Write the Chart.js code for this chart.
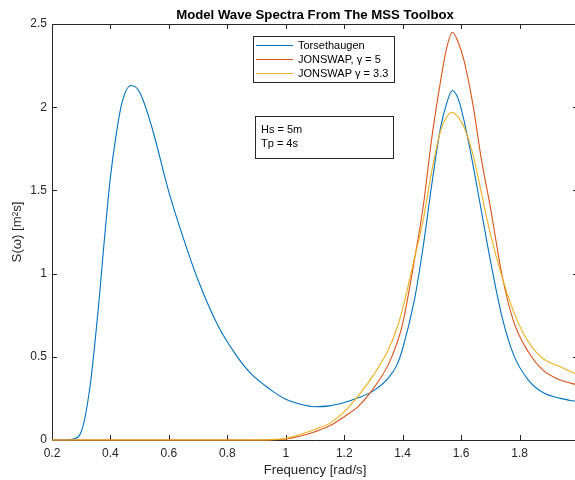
<!DOCTYPE html>
<html>
<head>
<meta charset="utf-8">
<title>Model Wave Spectra</title>
<script src="https://cdn.jsdelivr.net/npm/chart.js@4/dist/chart.umd.min.js"></script>
<style>
  html, body { margin: 0; padding: 0; background: #fff; overflow: hidden; }
  #wrap { width: 580px; height: 480px; }
</style>
</head>
<body>
<div id="wrap"><canvas id="spectra" width="580" height="480"></canvas></div>
<script>
// values
const freq = [0.20, 0.25, 0.27, 0.30, 0.33, 0.36, 0.38, 0.40, 0.42, 0.44, 0.47, 0.50, 0.54, 0.60, 0.65,
  0.70, 0.77, 0.83, 0.88, 0.95, 1.00, 1.05, 1.10, 1.15, 1.20, 1.25, 1.30, 1.35, 1.38, 1.40, 1.44,
  1.47, 1.50, 1.53, 1.55, 1.57, 1.59, 1.61, 1.64, 1.67, 1.70, 1.74, 1.78, 1.83, 1.88, 1.94, 2.00];

const torsethaugen = [0, 0, 0.005, 0.05, 0.32, 0.82, 1.22, 1.58, 1.84, 2.03, 2.13, 2.09, 1.89, 1.49, 1.21,
  0.96, 0.68, 0.51, 0.40, 0.30, 0.245, 0.215, 0.20, 0.205, 0.225, 0.255, 0.295, 0.37, 0.45, 0.55, 0.84,
  1.16, 1.54, 1.88, 2.02, 2.10, 2.05, 1.92, 1.66, 1.37, 1.08, 0.74, 0.51, 0.36, 0.285, 0.25, 0.23];

const jonswap5 = [0, 0, 0, 0, 0, 0, 0, 0, 0, 0, 0, 0, 0, 0, 0,
  0, 0, 0, 0, 0.001, 0.006, 0.024, 0.05, 0.085, 0.14, 0.205, 0.31, 0.45, 0.58, 0.70, 1.08,
  1.40, 1.82, 2.16, 2.35, 2.45, 2.39, 2.28, 2.02, 1.68, 1.40, 0.99, 0.71, 0.53, 0.42, 0.36, 0.33];

const jonswap33 = [0, 0, 0, 0, 0, 0, 0, 0, 0, 0, 0, 0, 0, 0, 0,
  0, 0, 0, 0, 0.002, 0.01, 0.034, 0.065, 0.10, 0.17, 0.27, 0.39, 0.54, 0.67, 0.79, 1.09,
  1.32, 1.62, 1.86, 1.94, 1.97, 1.94, 1.88, 1.72, 1.48, 1.24, 0.98, 0.77, 0.59, 0.49, 0.44, 0.39];

const xTicks = [0.2, 0.4, 0.6, 0.8, 1, 1.2, 1.4, 1.6, 1.8];
const yTicks = [0, 0.5, 1, 1.5, 2, 2.5];
const seriesNames = ["Torsethaugen", "JONSWAP, γ = 5", "JONSWAP γ = 3.3"];
const seriesColors = ["#0072BD", "#D95319", "#EDB120"];
const infoLines = ["Hs = 5m", "Tp = 4s"];
const chartTitle = "Model Wave Spectra From The MSS Toolbox";

const axisColor = "#262626";
const fontFamily = "'Liberation Sans', Arial, Helvetica, sans-serif";

function toPoints(values) {
  return freq.map(function (f, i) {
    return { x: f, y: values[i] };
  });
}

// MATLAB style box with inward ticks, title, legend and text box
const axesBox = {
  id: "axesBox",
  beforeDatasetsDraw(chart) {
    const { ctx, chartArea: a, scales } = chart;
    ctx.save();
    ctx.strokeStyle = axisColor;
    ctx.lineWidth = 1;
    ctx.beginPath();
    ctx.rect(Math.round(a.left) + 0.5, Math.round(a.top) + 0.5,
      Math.round(a.right - a.left), Math.round(a.bottom - a.top));
    ctx.stroke();
    ctx.beginPath();
    xTicks.forEach(function (v) {
      const px = Math.round(scales.x.getPixelForValue(v)) + 0.5;
      ctx.moveTo(px, a.bottom);
      ctx.lineTo(px, a.bottom - 5);
      ctx.moveTo(px, a.top);
      ctx.lineTo(px, a.top + 5);
    });
    yTicks.forEach(function (v) {
      const py = Math.round(scales.y.getPixelForValue(v)) + 0.5;
      ctx.moveTo(a.left, py);
      ctx.lineTo(a.left + 5, py);
      ctx.moveTo(a.right, py);
      ctx.lineTo(a.right - 5, py);
    });
    ctx.stroke();

    // title centred over the axes
    ctx.fillStyle = "#000";
    ctx.font = "bold 13.2px " + fontFamily;
    ctx.textAlign = "center";
    ctx.textBaseline = "alphabetic";
    ctx.fillText(chartTitle, (a.left + a.right) / 2, 19);
    ctx.restore();
  },
  afterDatasetsDraw(chart) {
    const ctx = chart.ctx;
    ctx.save();
    ctx.font = "11px " + fontFamily;
    ctx.textBaseline = "middle";
    ctx.textAlign = "left";

    // legend
    ctx.fillStyle = "#fff";
    ctx.fillRect(253.5, 36.5, 141, 46);
    ctx.strokeStyle = axisColor;
    ctx.lineWidth = 1;
    ctx.strokeRect(253.5, 36.5, 141, 46);
    seriesNames.forEach(function (name, i) {
      const y = 45.5 + i * 14;
      ctx.strokeStyle = seriesColors[i];
      ctx.beginPath();
      ctx.moveTo(256, y);
      ctx.lineTo(293, y);
      ctx.stroke();
      ctx.fillStyle = "#000";
      ctx.fillText(name, 298, y + 0.5);
    });

    // parameter box
    ctx.fillStyle = "#fff";
    ctx.fillRect(255.5, 116.5, 138, 42);
    ctx.strokeStyle = axisColor;
    ctx.strokeRect(255.5, 116.5, 138, 42);
    ctx.fillStyle = "#000";
    infoLines.forEach(function (line, i) {
      ctx.fillText(line, 261, 129.5 + i * 14);
    });
    ctx.restore();
  },
};

const ctx = document.getElementById("spectra").getContext("2d");
const spectraChart = new Chart(ctx, {
  type: "line",
  data: {
    datasets: seriesNames.map(function (name, i) {
      return {
        label: name,
        data: toPoints([torsethaugen, jonswap5, jonswap33][i]),
        borderColor: seriesColors[i],
        borderWidth: 1.1,
        pointRadius: 0,
        fill: false,
        cubicInterpolationMode: "monotone",
        order: 2 - i,
        clip: { left: 0, top: 0, right: 0, bottom: 2 },
      };
    }),
  },
  options: {
    responsive: false,
    animation: false,
    devicePixelRatio: 1,
    layout: { padding: { left: 0, top: 24, right: 2, bottom: 0 } },
    plugins: {
      legend: { display: false },
      tooltip: { enabled: false },
    },
    scales: {
      x: {
        type: "linear",
        min: 0.2,
        max: 2.0,
        afterBuildTicks: function (scale) {
          scale.ticks = xTicks.map(function (v) { return { value: v }; });
        },
        afterFit: function (scale) { scale.height = 40; },
        grid: { display: false, drawTicks: false },
        border: { display: false },
        ticks: {
          color: axisColor,
          font: { family: fontFamily, size: 12 },
          padding: 6,
          maxRotation: 0,
          autoSkip: false,
          callback: function (v) { return String(Math.round(v * 10) / 10); },
        },
        title: {
          display: true,
          text: "Frequency [rad/s]",
          color: axisColor,
          font: { family: fontFamily, size: 13.2 },
          padding: { top: 0, bottom: 2 },
        },
      },
      y: {
        type: "linear",
        min: 0,
        max: 2.5,
        afterBuildTicks: function (scale) {
          scale.ticks = yTicks.map(function (v) { return { value: v }; });
        },
        afterFit: function (scale) { scale.width = 52; },
        grid: { display: false, drawTicks: false },
        border: { display: false },
        ticks: {
          color: axisColor,
          font: { family: fontFamily, size: 12 },
          padding: 5,
          autoSkip: false,
          callback: function (v) { return String(v); },
        },
        title: {
          display: true,
          text: "S(ω) [m²s]",
          color: axisColor,
          font: { family: fontFamily, size: 13.2 },
          padding: { top: 9, bottom: 0 },
        },
      },
    },
  },
  plugins: [axesBox],
});
</script>
</body>
</html>
